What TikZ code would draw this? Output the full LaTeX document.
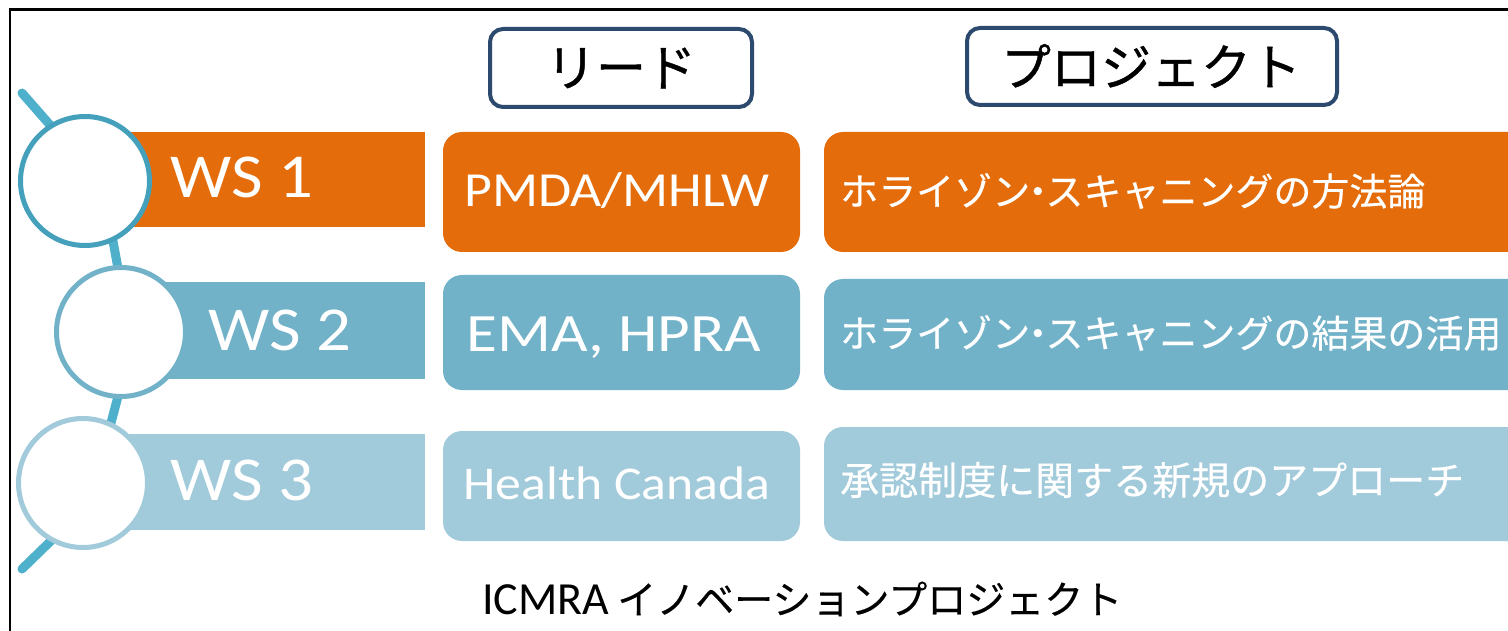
\documentclass[tikz,border=0pt]{standalone}
\usepackage{fontspec}
\setmainfont{Carlito}
\newfontfamily\latf[FakeStretch=1.1]{Carlito}
\newfontfamily\lats[FakeStretch=1.17]{Carlito}
\newfontfamily\jpf[FakeBold=0.35]{Noto Sans CJK JP}
\newfontfamily\jph[FakeBold=0.9]{Noto Sans CJK JP}
\definecolor{cOrange}{HTML}{E46C0A}
\definecolor{cMid}{HTML}{71B2C9}
\definecolor{cLight}{HTML}{A1CADA}
\definecolor{cLine}{HTML}{4FB0CB}
\definecolor{cRing}{HTML}{45A0BC}
\definecolor{cNavy}{HTML}{2C4A6E}
\newcommand{\nak}{\hspace{-.3em}・\hspace{-.3em}}
\tikzset{
  ws/.style={inner sep=0pt,text=white,font=\latf\fontsize{62.5}{64}\selectfont,anchor=base west},
  lead/.style={inner sep=0pt,text=white,anchor=base},
  proj/.style={inner sep=0pt,text=white,anchor=west,font=\jpf\fontsize{38}{39}\selectfont},
  head/.style={draw=cNavy,line width=4pt,rounded corners=13pt,fill=white,inner sep=0pt},
  headt/.style={inner sep=0pt,text=black,font=\jph\fontsize{50}{50}\selectfont},
  ring/.style={circle,fill=white,line width=5pt,inner sep=0pt,minimum size=129pt},
  dot/.style={circle,inner sep=0pt,minimum size=132pt},
  link/.style={draw=cLine,line width=9pt,line cap=round},
  bx/.style={rounded corners=19pt},
}
\begin{document}
\begin{tikzpicture}[x=1pt,y=-1pt]
\useasboundingbox (0,0) rectangle (1508,631);
\fill[white] (0,0) rectangle (1508,631);
\draw[black,line width=2.2pt] (10,631) -- (10,9.5) -- (1508,9.5);
% bars
\fill[cOrange] (120,132) rectangle (425,227);
\fill[cMid] (150,282) rectangle (425,379);
\fill[cLight] (120,434) rectangle (425,530);
% lead boxes
\fill[cOrange,bx] (443,132) rectangle (800,252);
\fill[cMid,bx] (443,275) rectangle (800,390);
\fill[cLight,bx] (443,431) rectangle (800,541);
% project boxes
\fill[cOrange,bx] (824,132) -- (1530,132) -- (1530,252) -- (824,252) -- cycle;
\fill[cMid,bx] (824,279) -- (1530,279) -- (1530,390) -- (824,390) -- cycle;
\fill[cLight,bx] (824,427) -- (1530,427) -- (1530,541) -- (824,541) -- cycle;
% link ends
\coordinate (t) at (22,93);
\coordinate (b) at (22,569);
\path node[dot] (c1) at (85,181) {}
      node[dot] (c2) at (121,332) {}
      node[dot] (c3) at (83,483) {};
\draw[link] (t) -- (c1.122);
\draw[link] (c1.-65) -- (c2.93);
\draw[link] (c2.-93) -- (c3.65);
\draw[link] (c3.-119) -- (b);
\node[ring,draw=cRing] at (c1) {};
\node[ring,draw=cMid] at (c2) {};
\node[ring,draw=cLight] at (c3) {};
% WS labels
\node[ws] (w1) at (170,198) {WS 1};
\node[ws] (w2) at (208,350) {WS 2};
\node[ws] (w3) at (170,500) {WS 3};
% lead labels
\node[lead,font=\latf\fontsize{49}{49}\selectfont] (l1) at (617,207) {PMDA/MHLW};
\node[lead,font=\lats\fontsize{54}{54}\selectfont] (l2) at (614,351) {EMA, HPRA};
\node[lead,font=\latf\fontsize{47}{47}\selectfont] (l3) at (617,499) {Health Canada};
% project labels
\node[proj] (p1) at (840,191) {ホライゾン\nak スキャニングの方法論};
\node[proj] (p2) at (840,333) {ホライゾン\nak スキャニングの結果の活用};
\node[proj,font=\jpf\fontsize{39}{40}\selectfont] (p3) at (840,480) {承認制度に関する新規のアプローチ};
% headers
\draw[head] (490,29) rectangle (752,107);
\node[headt] (h1) at (621,68) {リード};
\draw[head] (967,28) rectangle (1337,105);
\node[headt] (h2) at (1151,66) {プロジェクト};
% caption
\node[inner sep=0pt,text=black,anchor=base west,font=\fontsize{46}{46}\selectfont] (cap) at (482,614) {ICMRA\hspace{8pt}{\jpf\fontsize{39}{39}\selectfont イノベーションプロジェクト}};
\end{tikzpicture}
\end{document}
